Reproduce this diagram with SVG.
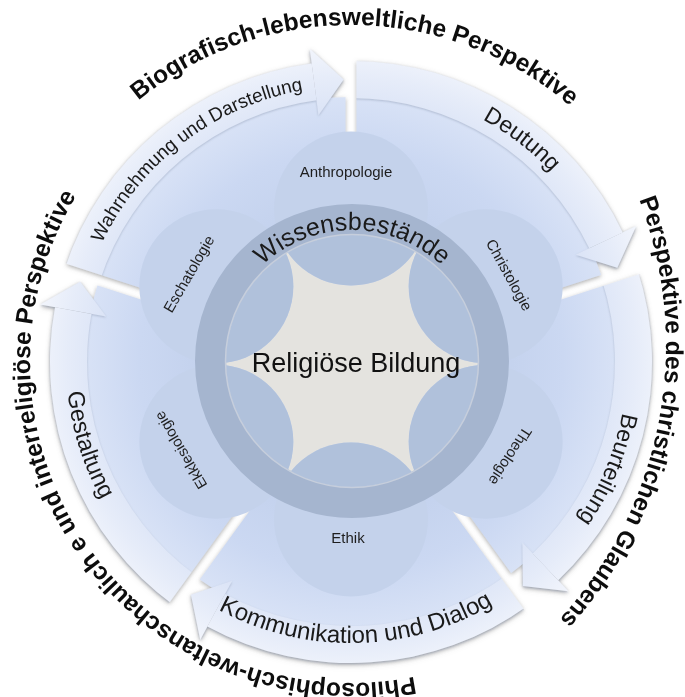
<svg xmlns="http://www.w3.org/2000/svg" width="685" height="697" viewBox="0 0 685 697">
<defs>
<style>
.outer{font-family:"Liberation Sans",Arial,sans-serif;font-weight:bold;font-size:24.5px;fill:#0d0d0d}
.band{font-family:"Liberation Sans",Arial,sans-serif;fill:#1a1a1a}
.pt{font-family:"Liberation Sans",Arial,sans-serif;font-size:15px;fill:#1e1e1e;text-anchor:middle}
.body{fill:url(#bodyGrad)}
.bandf{fill:url(#bandGrad)}
.arrow{filter:url(#bsh)}
.petal{fill:#c4d2eb}
.petalIn{fill:#b0c1db}
</style>
<radialGradient id="bodyGrad" gradientUnits="userSpaceOnUse" cx="351" cy="362" r="265">
<stop offset="0.45" stop-color="#c0cfeb"/>
<stop offset="0.8" stop-color="#cbd8f2"/>
<stop offset="1" stop-color="#d8e2f6"/>
</radialGradient>
<radialGradient id="bandGrad" gradientUnits="userSpaceOnUse" cx="351" cy="362" r="316">
<stop offset="0.78" stop-color="#dae3f6"/>
<stop offset="0.9" stop-color="#e6ecf9"/>
<stop offset="1" stop-color="#f2f5fc"/>
</radialGradient>
<filter id="sh" x="-10%" y="-10%" width="120%" height="120%">
<feDropShadow dx="0" dy="1.5" stdDeviation="2" flood-color="#6b6b6b" flood-opacity="0.55"/>
</filter>
<filter id="bsh" x="-10%" y="-10%" width="120%" height="120%">
<feDropShadow dx="0" dy="1" stdDeviation="1.2" flood-color="#7d89a3" flood-opacity="0.45"/>
</filter>
<mask id="gapMask" maskUnits="userSpaceOnUse" x="0" y="0" width="685" height="697">
<rect x="0" y="0" width="685" height="697" fill="#fff"/>
<g stroke="#000" stroke-width="11">
<line x1="351" y1="262" x2="351" y2="22"/>
<line x1="446.11" y1="331.10" x2="674.36" y2="256.93"/>
<line x1="409.78" y1="442.90" x2="550.85" y2="637.07"/>
<line x1="292.22" y1="442.90" x2="151.15" y2="637.07"/>
<line x1="255.89" y1="331.10" x2="27.64" y2="256.93"/>
</g>
</mask>
<clipPath id="inDisk"><circle cx="352" cy="361" r="126"/></clipPath>
<path id="tpWahr" d="M 81.81 301.09 A 276 276 0 0 1 364.24 86.32"/>
<path id="tpDeut" d="M 387.03 88.36 A 276 276 0 0 1 605.99 256.38"/>
<path id="tpBeur" d="M 624.76 326.93 A 276 276 0 0 1 518.25 581.55"/>
<path id="tpKomm" d="M 156.24 564.56 A 281 281 0 0 0 553.56 556.76"/>
<path id="tpGest" d="M 72.75 300.31 A 285 285 0 0 0 158.46 572.12"/>
<path id="tpWiss" d="M 221 361 A 131 131 0 0 1 483 361"/>
<path id="tpTop" d="M 19.91 299.14 A 337 337 0 0 1 683.62 307.83"/>
<path id="tpRight" d="M 574.42 88.16 A 406 406 0 0 1 458.38 699.24"/>
<path id="tpLeft" d="M 526.30 630.91 A 321 321 0 0 1 157.37 105.98"/>
</defs>

<g id="cycle" filter="url(#sh)">
<g mask="url(#gapMask)">
<g id="seg-wahrnehmung">
<path class="body" d="M 98.97 280.11 A 265 265 0 0 1 351 97 L 351 252 A 110 110 0 0 0 246.38 328.01 Z"/>
<g class="arrow">
<path class="bandf" d="M 64.73 268.99 A 301 301 0 0 1 311.71 63.58 L 316.54 100.26 A 264 264 0 0 0 99.92 280.42 Z"/>
<polygon class="bandf" points="309.75,48.70 343.60,79.60 318.50,115.13"/>
</g>
</g>
<g id="seg-deutung">
<path class="body" d="M 351 97 A 265 265 0 0 1 603.03 280.11 L 455.62 328.01 A 110 110 0 0 0 351 252 Z"/>
<g class="arrow">
<path class="bandf" d="M 351 61 A 301 301 0 0 1 622.68 232.42 L 589.28 248.35 A 264 264 0 0 0 351 98 Z"/>
<polygon class="bandf" points="636.22,225.96 617.30,267.70 575.74,254.80"/>
</g>
</g>
<g id="seg-beurteilung">
<path class="body" d="M 603.03 280.11 A 265 265 0 0 1 506.76 576.39 L 415.66 450.99 A 110 110 0 0 0 455.62 328.01 Z"/>
<g class="arrow">
<path class="bandf" d="M 637.27 268.99 A 301 301 0 0 1 558.19 580.34 L 532.72 553.50 A 264 264 0 0 0 602.08 280.42 Z"/>
<polygon class="bandf" points="568.52,591.22 522.97,586.12 522.40,542.62"/>
</g>
</g>
<g id="seg-kommunikation">
<path class="body" d="M 506.76 576.39 A 265 265 0 0 1 195.24 576.39 L 286.34 450.99 A 110 110 0 0 0 415.66 450.99 Z"/>
<g class="arrow">
<path class="bandf" d="M 527.93 605.52 A 301 301 0 0 1 207.37 626.52 L 225.03 594.01 A 264 264 0 0 0 506.18 575.58 Z"/>
<polygon class="bandf" points="200.22,639.71 190.99,594.82 232.19,580.83"/>
</g>
</g>
<g id="seg-gestaltung">
<path class="body" d="M 195.24 576.39 A 265 265 0 0 1 98.97 280.11 L 246.38 328.01 A 110 110 0 0 0 286.34 450.99 Z"/>
<g class="arrow">
<path class="bandf" d="M 174.07 605.52 A 301 301 0 0 1 55.04 307.15 L 91.42 313.89 A 264 264 0 0 0 195.82 575.58 Z"/>
<polygon class="bandf" points="40.29,304.41 80.13,281.76 106.17,316.62"/>
</g>
</g>
</g>
</g>

<g id="band-labels" class="band">
<text font-size="19"><textPath href="#tpWahr" startOffset="50%" text-anchor="middle">Wahrnehmung und Darstellung</textPath></text>
<text font-size="23"><textPath href="#tpDeut" startOffset="50%" text-anchor="middle">Deutung</textPath></text>
<text font-size="23"><textPath href="#tpBeur" startOffset="50%" text-anchor="middle">Beurteilung</textPath></text>
<text font-size="24"><textPath href="#tpKomm" startOffset="50%" text-anchor="middle">Kommunikation und Dialog</textPath></text>
<text font-size="23.5"><textPath href="#tpGest" startOffset="50%" text-anchor="middle">Gestaltung</textPath></text>
</g>

<g id="center-disk"><circle cx="352" cy="361" r="127" fill="#e4e3df"/></g>

<g id="petal-anthropologie">
<circle class="petal" cx="351" cy="208.5" r="77"/>
<circle class="petalIn" cx="351" cy="208.5" r="77" clip-path="url(#inDisk)"/>
<text class="pt" x="346" y="177">Anthropologie</text>
</g>
<g id="petal-christologie">
<circle class="petal" cx="485.67" cy="286.25" r="77"/>
<circle class="petalIn" cx="485.67" cy="286.25" r="77" clip-path="url(#inDisk)"/>
<text class="pt" transform="translate(509 275) rotate(61)" x="0" y="5">Christologie</text>
</g>
<g id="petal-theologie">
<circle class="petal" cx="485.67" cy="441.75" r="77"/>
<circle class="petalIn" cx="485.67" cy="441.75" r="77" clip-path="url(#inDisk)"/>
<text class="pt" transform="translate(510 456) rotate(123)" x="0" y="5">Theologie</text>
</g>
<g id="petal-ethik">
<circle class="petal" cx="351" cy="519.5" r="77"/>
<circle class="petalIn" cx="351" cy="519.5" r="77" clip-path="url(#inDisk)"/>
<text class="pt" x="348" y="543">Ethik</text>
</g>
<g id="petal-ekklesiologie">
<circle class="petal" cx="216.33" cy="441.75" r="77"/>
<circle class="petalIn" cx="216.33" cy="441.75" r="77" clip-path="url(#inDisk)"/>
<text class="pt" transform="translate(181 450) rotate(-121)" x="0" y="5">Ekklesiologie</text>
</g>
<g id="petal-eschatologie">
<circle class="petal" cx="216.33" cy="286.25" r="77"/>
<circle class="petalIn" cx="216.33" cy="286.25" r="77" clip-path="url(#inDisk)"/>
<text class="pt" transform="translate(189 274) rotate(-60)" x="0" y="5">Eschatologie</text>
</g>

<g id="ring-wissensbestaende">
<circle cx="352" cy="361" r="141.5" fill="none" stroke="#a5b5cf" stroke-width="31"/>
<circle cx="352" cy="361" r="126.5" fill="none" stroke="#c6cedc" stroke-width="1.5"/>
<text class="band" font-size="25"><textPath href="#tpWiss" startOffset="50%" text-anchor="middle">Wissensbestände</textPath></text>
</g>

<g id="center-label">
<text x="356" y="372" font-family="Liberation Sans, Arial, sans-serif" font-size="27" fill="#111" text-anchor="middle">Religiöse Bildung</text>
</g>

<g id="perspectives" class="outer">
<text><textPath href="#tpTop" startOffset="50%" text-anchor="middle">Biografisch-lebensweltliche Perspektive</textPath></text>
<text><textPath href="#tpRight" startOffset="50%" text-anchor="middle">Perspektive des christlichen Glaubens</textPath></text>
<text><textPath href="#tpLeft" startOffset="50%" text-anchor="middle">Philosophisch-weltanschaulich e und interreligiöse Perspektive</textPath></text>
</g>
</svg>
